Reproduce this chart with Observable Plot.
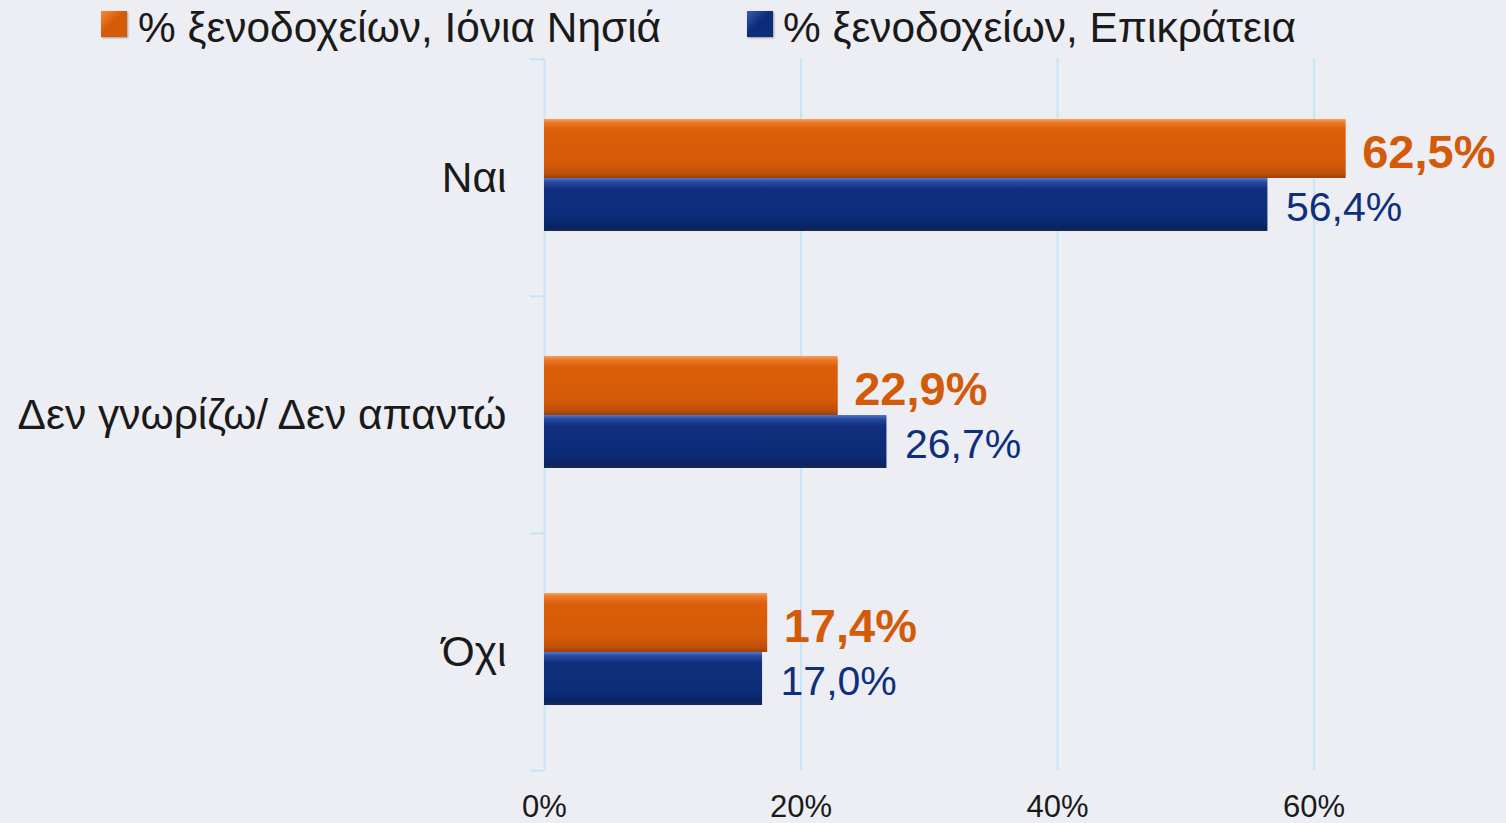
<!DOCTYPE html>
<html>
<head>
<meta charset="utf-8">
<script src="https://cdn.jsdelivr.net/npm/d3@7"></script>
<script src="https://cdn.jsdelivr.net/npm/@observablehq/plot@0.6"></script>
<style>
  html, body { margin: 0; padding: 0; background: #eceef4; }
  #wrap { position: relative; width: 1506px; height: 823px; overflow: hidden; font-family: "Liberation Sans", Arial, sans-serif; }
  .sw { position: absolute; width: 26px; height: 26px; top: 11px; box-shadow: 1px 1px 2px rgba(0,0,0,0.35); }
  .lt { position: absolute; top: 7px; font-size: 42.4px; line-height: 1; color: #1a1a1a; white-space: nowrap; }
  #chart { position: absolute; left: 0; top: 0; }
</style>
</head>
<body>
<div id="wrap">
  <div id="chart"></div>
  <div id="legend"></div>
</div>
<script>
const categories = ["Ναι", "Δεν γνωρίζω/ Δεν απαντώ", "Όχι"];
const seriesNames = ["% ξενοδοχείων, Ιόνια Νησιά", "% ξενοδοχείων, Επικράτεια"];
const ionianValues = [62.5, 22.9, 17.4];
const mainlandValues = [56.4, 26.7, 17.0];
const xTicks = [0, 20, 40, 60];
const fmt = v => v.toFixed(1).replace(".", ",") + "%";

const ionian = categories.map((c, i) => ({category: c, value: ionianValues[i]}));
const mainland = categories.map((c, i) => ({category: c, value: mainlandValues[i]}));

const ORANGE = "#d75b07", BLUE = "#0d2d7a";
const ORANGE_TXT = "#d35a08", BLUE_TXT = "#0f2f7c";
const GRID = "#c6e6f7";

const plot = Plot.plot({
  width: 1506,
  height: 823,
  marginLeft: 544,
  marginRight: 0,
  marginTop: 58,
  marginBottom: 53,
  style: {background: "#eceef4", fontFamily: "'Liberation Sans', Arial, sans-serif", overflow: "visible"},
  x: {domain: [0, 75], axis: null},
  y: {domain: categories, padding: 0, axis: null},
  marks: [
    Plot.ruleX(xTicks, {x: d => d, stroke: GRID, strokeWidth: 2}),
    Plot.ruleY(categories, {y: d => d, x1: -1.1, x2: 0, dy: -712 / 6, stroke: GRID, strokeWidth: 2}),
    Plot.ruleY(categories.slice(-1), {y: d => d, x1: -1.1, x2: 0, dy: 712 / 6, stroke: GRID, strokeWidth: 2}),
    Plot.barX(ionian, {x: "value", y: "category", fill: "url(#gradO)", insetTop: 60, insetBottom: 118}),
    Plot.barX(mainland, {x: "value", y: "category", fill: "url(#gradB)", insetTop: 119, insetBottom: 65}),
    Plot.text(ionian, {x: "value", y: "category", text: d => fmt(d.value), dx: 16, dy: -25, textAnchor: "start", fill: ORANGE_TXT, fontSize: 47, fontWeight: "bold"}),
    Plot.text(mainland, {x: "value", y: "category", text: d => fmt(d.value), dx: 18, dy: 30, textAnchor: "start", fill: BLUE_TXT, fontSize: 41}),
    Plot.text(categories, {y: d => d, frameAnchor: "left", textAnchor: "end", dx: -38, fontSize: 42.5, fill: "#1a1a1a", text: d => d}),
    Plot.text(xTicks, {x: d => d, frameAnchor: "bottom", dy: 46, text: d => d + "%", fontSize: 31, fill: "#1a1a1a"})
  ]
});

const svg = d3.select(plot);
const defs = svg.insert("defs", ":first-child");
const gO = defs.append("linearGradient").attr("id", "gradO").attr("x1", 0).attr("y1", 0).attr("x2", 0).attr("y2", 1);
[[0, "#f8a060"], [0.06, "#ec7a28"], [0.18, "#dc5f0a"], [0.75, "#d55a07"], [0.92, "#bd5008"], [1, "#9c420a"]]
  .forEach(([o, c]) => gO.append("stop").attr("offset", o).attr("stop-color", c));
const gB = defs.append("linearGradient").attr("id", "gradB").attr("x1", 0).attr("y1", 0).attr("x2", 0).attr("y2", 1);
[[0, "#5578c8"], [0.07, "#2a4ea5"], [0.2, "#10307f"], [0.78, "#0c2b77"], [0.93, "#0a2462"], [1, "#1b2a4a"]]
  .forEach(([o, c]) => gB.append("stop").attr("offset", o).attr("stop-color", c));
svg.selectAll("rect").filter(function() { return (this.getAttribute("fill") || "").startsWith("url"); })
  .style("filter", "drop-shadow(1px 3px 2px rgba(0,0,0,0.25))");

document.getElementById("chart").appendChild(plot);

// Legend
const legend = d3.select("#legend");
const legendItems = [
  {name: seriesNames[0], color: ORANGE, light: "#f58a3a", sx: 101, tx: 138},
  {name: seriesNames[1], color: BLUE, light: "#3a5cb0", sx: 747, tx: 783}
];
legendItems.forEach(it => {
  legend.append("div").attr("class", "sw").style("left", it.sx + "px")
    .style("background", `linear-gradient(135deg, ${it.light} 0%, ${it.color} 45%, ${it.color} 100%)`);
  legend.append("div").attr("class", "lt").style("left", it.tx + "px").text(it.name);
});
</script>
</body>
</html>
